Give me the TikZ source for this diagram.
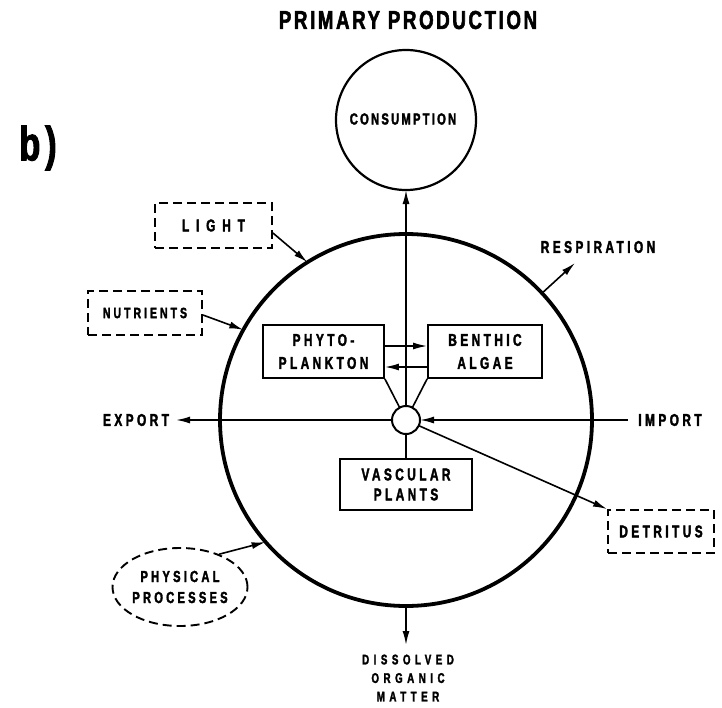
\documentclass[tikz,border=0pt]{standalone}
\usepackage{fontspec}
\setmainfont{Liberation Sans}
\newfontfamily\labfont{Liberation Sans}[FakeStretch=0.7,LetterSpace=20,FakeBold=2]
\newfontfamily\ttlfont{Liberation Sans}[FakeStretch=0.72,LetterSpace=10,FakeBold=2]
\usetikzlibrary{arrows.meta,shapes.geometric}
\begin{document}
\begin{tikzpicture}[x=1pt,y=-1pt,
  lab/.style={font=\labfont\bfseries\fontsize{17}{23}\selectfont, align=center, inner sep=0pt},
  solidbox/.style={lab, draw, line width=1.8pt, rectangle},
  dashbox/.style={lab, draw, line width=1.9pt, dash pattern=on 9pt off 5pt, rectangle},
  conn/.style={line width=1.6pt},
  arr/.style={line width=1.6pt, -{Latex[length=14pt,width=7pt]}},
]
\useasboundingbox (0,0) rectangle (722,707);

% title and panel label
\node[font=\ttlfont\bfseries\fontsize{26}{28}\selectfont, inner sep=0pt] (title) at (408,20) {PRIMARY PRODUCTION};
\node[font=\ttlfont\bfseries\fontsize{48}{50}\selectfont, inner sep=0pt] (panel) at (38,148) {b)};

% circles
\node[circle, draw, line width=3.8pt, minimum size=372pt, inner sep=0pt, outer sep=0pt] (main) at (406,420) {};
\node[circle, draw, line width=2.2pt, minimum size=140pt, inner sep=0pt, outer sep=0pt] (cons) at (406,120) {};
\node[lab, font=\labfont\bfseries\fontsize{16}{18}\selectfont\addfontfeatures{LetterSpace=14}] (constext) at (403,119) {CONSUMPTION};
\node[circle, draw, line width=2pt, minimum size=28pt, inner sep=0pt, outer sep=0pt] (sc) at (406,420) {};

% inner boxes
\node[solidbox, minimum width=121pt, minimum height=53pt] (phyto) at (323.5,351.5) {PHYTO-\\PLANKTON};
\node[solidbox, minimum width=114pt, minimum height=53pt] (benthic) at (485,351.5) {BENTHIC\\ALGAE};
\node[solidbox, minimum width=132pt, minimum height=51pt, font=\labfont\bfseries\fontsize{17}{20}\selectfont] (vasc) at (406,484.5) {VASCULAR\\PLANTS};

% dashed boxes
\node[dashbox, minimum width=117pt, minimum height=45pt, font=\labfont\bfseries\fontsize{17}{20}\selectfont\addfontfeatures{LetterSpace=40}] (light) at (213.5,225.5) {LIGHT};
\node[dashbox, minimum width=114pt, minimum height=44pt, font=\labfont\bfseries\fontsize{15}{17}\selectfont] (nutr) at (145,313) {NUTRIENTS};
\node[dashbox, minimum width=106pt, minimum height=43pt] (detr) at (661,531.5) {DETRITUS};
\node[lab, ellipse, draw, line width=1.9pt, dash pattern=on 9pt off 5pt, minimum width=135pt, minimum height=78pt, font=\labfont\bfseries\fontsize{16}{21}\selectfont] (phys) at (180,587) {PHYSICAL\\PROCESSES};

% free labels
\node[lab] (export) at (136,420) {EXPORT};
\node[lab] (import) at (670,420) {IMPORT};
\node[lab] (resp) at (598,247) {RESPIRATION};
\node[lab, font=\labfont\bfseries\fontsize{14}{18.5}\selectfont\addfontfeatures{LetterSpace=32}] (dom) at (408,678) {DISSOLVED\\ORGANIC\\MATTER};

% free ends
\coordinate (expend) at (176,420);
\coordinate (impstart) at (628,420);
\coordinate (respend) at (575,263);
\coordinate (domend) at (406,645);

% connectors
\draw[arr] (sc.north) -- (cons.south);
\draw[conn] (sc.south) -- (vasc.north);
\draw[arr] (sc.west) -- (expend);
\draw[arr] (impstart) -- (sc.east);
\draw[arr] (sc) -- (detr.north west);
\draw[conn] (phyto.south east) -- (sc);
\draw[conn] (benthic.south west) -- (sc);
\draw[arr] (phyto.east |- 0,346) -- (benthic.west |- 0,346);
\draw[arr] (benthic.west |- 0,367) -- (phyto.east |- 0,367);

\draw[arr] (light.east |- 0,233) -- (main.122.8);
\draw[arr] (nutr.east |- 0,315) -- (main.151);
\draw[arr] (main.43) -- (respend);
\draw[arr] (phys.40) -- (main.221.6);
\draw[arr] (main.south) -- (domend);
\end{tikzpicture}
\end{document}
